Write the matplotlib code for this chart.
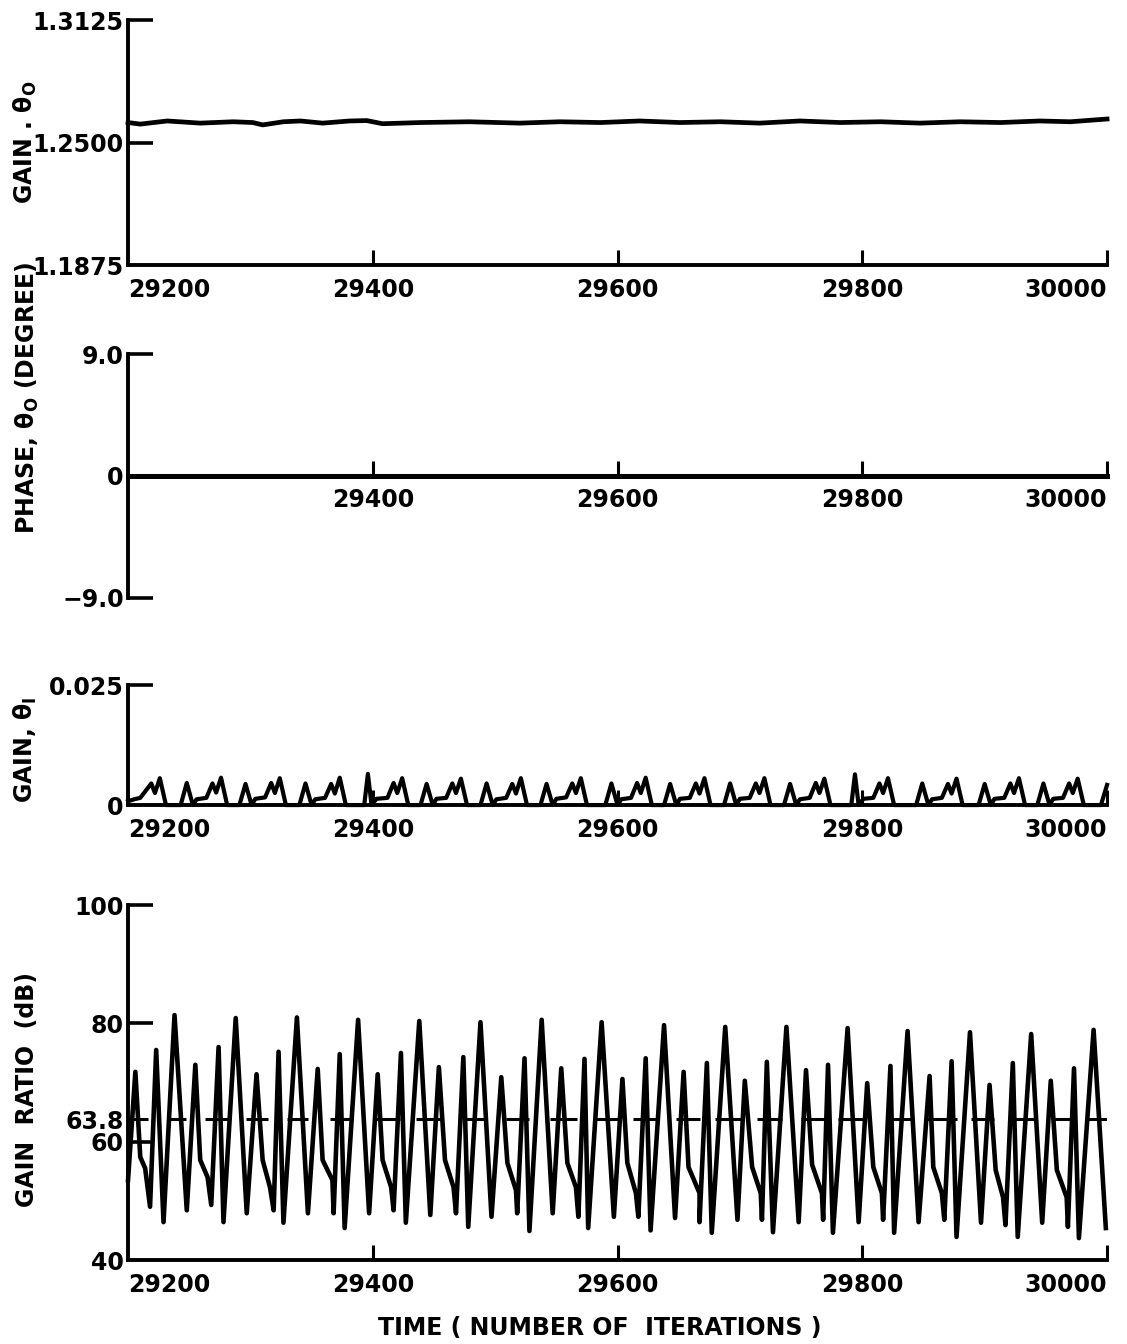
import matplotlib
matplotlib.use("Agg")
import matplotlib.pyplot as plt

plt.rcParams['font.family'] = ['DejaVu Sans']
plt.rcParams['font.weight'] = 'bold'
plt.rcParams['mathtext.fontset'] = 'dejavusans'

# --- data ---
# panel 1: gain theta_0
gain0_iter = [29200, 29210, 29232, 29259, 29286, 29302, 29310, 29327, 29341, 29359,
              29381, 29395, 29408, 29439, 29479, 29520, 29553, 29586, 29618, 29651,
              29684, 29716, 29749, 29782, 29815, 29847, 29880, 29913, 29945, 29970, 30000]
gain0_val = [1.2602, 1.2594, 1.2610, 1.2599, 1.2606, 1.2602, 1.2590, 1.2606, 1.2610, 1.2599,
             1.2610, 1.2612, 1.2596, 1.2602, 1.2606, 1.2599, 1.2606, 1.2602, 1.2610, 1.2602,
             1.2606, 1.2599, 1.2610, 1.2602, 1.2606, 1.2599, 1.2606, 1.2602, 1.2610, 1.2606, 1.2620]

# panel 2: phase theta_0 (flat)
phase_iter = [29200, 30000]
phase_val = [0.0, 0.0]

# panel 3: gain theta_I
gainI_iter = [29200, 29205, 29210, 29219, 29222, 29226, 29231,
              29243, 29248, 29253, 29256, 29264, 29269, 29272, 29276, 29281,
              29291, 29296, 29301, 29304, 29312, 29317, 29320, 29324, 29329,
              29340, 29345, 29350, 29353, 29361, 29366, 29369, 29373, 29378,
              29393, 29396, 29399, 29403, 29412, 29417, 29420, 29424, 29429,
              29439, 29444, 29449, 29452, 29460, 29465, 29468, 29472, 29477,
              29488, 29493, 29498, 29501, 29509, 29514, 29517, 29521, 29526,
              29537, 29542, 29547, 29550, 29558, 29563, 29566, 29570, 29575,
              29590, 29595, 29600, 29603, 29611, 29616, 29619, 29623, 29628,
              29638, 29643, 29648, 29651, 29659, 29664, 29667, 29671, 29676,
              29687, 29692, 29697, 29700, 29708, 29713, 29716, 29720, 29725,
              29736, 29741, 29746, 29749, 29757, 29762, 29765, 29769, 29774,
              29791, 29794, 29797, 29801, 29809, 29814, 29817, 29821, 29826,
              29844, 29849, 29854, 29857, 29865, 29870, 29873, 29877, 29882,
              29895, 29900, 29905, 29908, 29916, 29921, 29924, 29928, 29933,
              29943, 29948, 29953, 29956, 29964, 29969, 29972, 29976, 29981,
              29995, 30000]
gainI_val = [0.0008, 0.0012, 0.0015, 0.0045, 0.0025, 0.0056, 0.0,
             0.0, 0.0046, 0.0, 0.0012, 0.0015, 0.0045, 0.0026, 0.0057, 0.0,
             0.0, 0.0044, 0.0, 0.0013, 0.0016, 0.0046, 0.0025, 0.0056, 0.0,
             0.0, 0.0045, 0.0, 0.0012, 0.0015, 0.0044, 0.0024, 0.0057, 0.0,
             0.0, 0.0065, 0.0, 0.0013, 0.0015, 0.0046, 0.0025, 0.0056, 0.0,
             0.0, 0.0044, 0.0, 0.0013, 0.0015, 0.0045, 0.0025, 0.0055, 0.0,
             0.0, 0.0045, 0.0, 0.0012, 0.0015, 0.0044, 0.0024, 0.0056, 0.0,
             0.0, 0.0044, 0.0, 0.0013, 0.0016, 0.0045, 0.0025, 0.0056, 0.0,
             0.0, 0.0045, 0.0, 0.0012, 0.0015, 0.0046, 0.0025, 0.0057, 0.0,
             0.0, 0.0044, 0.0, 0.0013, 0.0015, 0.0045, 0.0024, 0.0056, 0.0,
             0.0, 0.0045, 0.0, 0.0013, 0.0015, 0.0045, 0.0025, 0.0056, 0.0,
             0.0, 0.0044, 0.0, 0.0012, 0.0015, 0.0046, 0.0025, 0.0055, 0.0,
             0.0, 0.0064, 0.0, 0.0013, 0.0015, 0.0045, 0.0025, 0.0056, 0.0,
             0.0, 0.0045, 0.0, 0.0012, 0.0015, 0.0044, 0.0024, 0.0055, 0.0,
             0.0, 0.0044, 0.0, 0.0013, 0.0015, 0.0045, 0.0025, 0.0056, 0.0,
             0.0, 0.0045, 0.0, 0.0013, 0.0015, 0.0045, 0.0025, 0.0055, 0.0,
             0.0, 0.0042]

# panel 4: gain ratio (dB)
ratio_iter = [29200, 29206, 29210, 29214, 29218, 29223, 29229, 29238, 29248, 29255,
              29259, 29265, 29268, 29274, 29278, 29288, 29297, 29305, 29310, 29316,
              29319, 29323, 29327, 29338, 29347, 29355, 29359, 29367, 29368, 29373,
              29377, 29388, 29397, 29404, 29408, 29415, 29417, 29423, 29427, 29438,
              29447, 29454, 29459, 29466, 29468, 29474, 29478, 29488, 29497, 29505,
              29510, 29517, 29518, 29524, 29528, 29538, 29547, 29554, 29559, 29566,
              29568, 29573, 29576, 29587, 29597, 29604, 29608, 29615, 29617, 29623,
              29627, 29638, 29647, 29654, 29658, 29667, 29667, 29673, 29677, 29688,
              29698, 29704, 29710, 29717, 29718, 29722, 29727, 29738, 29748, 29754,
              29759, 29767, 29768, 29772, 29776, 29788, 29797, 29804, 29809, 29816,
              29817, 29823, 29826, 29837, 29846, 29855, 29858, 29865, 29867, 29873,
              29877, 29888, 29897, 29904, 29909, 29915, 29917, 29923, 29927, 29938,
              29947, 29954, 29959, 29967, 29968, 29973, 29977, 29989, 29999]
ratio_val = [53.5, 71.8, 57.4, 55.5, 49.0, 75.5, 46.4, 81.4, 48.4, 73.0,
             56.9, 54.0, 49.3, 76.0, 46.4, 80.9, 47.9, 71.4, 56.9, 52.3,
             48.4, 75.2, 46.3, 81.0, 47.9, 72.3, 56.9, 53.5, 47.9, 74.8,
             45.4, 80.6, 47.9, 71.4, 56.9, 52.3, 48.4, 75.0, 46.3, 80.4,
             47.6, 72.6, 56.9, 52.3, 47.9, 74.3, 45.6, 80.2, 47.3, 70.9,
             56.4, 51.8, 47.9, 74.1, 44.9, 80.6, 47.9, 72.4, 56.4, 52.3,
             47.3, 74.0, 45.4, 80.2, 47.3, 70.6, 56.4, 51.3, 47.3, 74.1,
             45.0, 79.7, 47.1, 71.8, 55.7, 51.3, 46.4, 73.3, 44.6, 79.4,
             46.8, 70.3, 55.7, 51.3, 46.8, 73.5, 44.7, 79.4, 46.4, 72.1,
             56.1, 51.3, 46.8, 73.0, 44.6, 79.2, 46.4, 69.9, 55.7, 51.3,
             46.8, 72.8, 44.6, 78.7, 46.4, 71.1, 55.7, 51.3, 46.8, 73.6,
             43.9, 78.5, 46.3, 69.6, 55.2, 50.6, 45.9, 73.3, 43.9, 78.2,
             46.3, 70.3, 55.2, 50.6, 45.6, 72.4, 43.7, 78.9, 45.4]

# broken reference line at 63.8 dB
ref_level = 63.8
ref_start = [29200, 29233, 29263, 29296, 29330, 29365, 29402, 29435, 29475, 29509,
             29545, 29581, 29613, 29648, 29680, 29714, 29750, 29780, 29819, 29851,
             29889, 29921, 29955, 29983]
ref_end = [29216, 29247, 29282, 29314, 29347, 29384, 29422, 29457, 29493, 29528,
           29567, 29601, 29633, 29667, 29702, 29734, 29770, 29803, 29841, 29877,
           29908, 29942, 29975, 30001]

x_ticks = [29200, 29400, 29600, 29800, 30000]
x_labels = ['29200', '29400', '29600', '29800', '30000']

FS = 17
fig = plt.figure(figsize=(11.27, 13.44), dpi=100)


def base_axes(rect):
    ax = fig.add_axes(rect)
    ax.set_facecolor('none')
    ax.spines['top'].set_visible(False)
    ax.spines['right'].set_visible(False)
    ax.spines['left'].set_linewidth(2.8)
    ax.spines['bottom'].set_linewidth(2.8)
    ax.tick_params(axis='x', direction='in', length=11, width=2.2, labelsize=FS, pad=9)
    ax.tick_params(axis='y', direction='in', length=18, width=2.6, labelsize=FS, pad=3)
    ax.set_xlim(29200, 30000)
    return ax


def set_x(ax, ticks, labels):
    ax.set_xticks(ticks, labels)
    lbls = ax.get_xticklabels()
    if labels[0] == '29200':
        lbls[0].set_ha('left')
        ax.xaxis.get_major_ticks()[0].tick1line.set_visible(False)
    lbls[-1].set_ha('right')


def hide_ytick(ax, idx):
    ax.yaxis.get_major_ticks()[idx].tick1line.set_visible(False)


# panel 1
ax1 = base_axes([0.1136, 0.8028, 0.8687, 0.1823])
ax1.plot(gain0_iter, gain0_val, color='black', lw=3.4, clip_on=False)
ax1.set_ylim(1.1875, 1.3125)
ax1.set_yticks([1.1875, 1.25, 1.3125], ['1.1875', '1.2500', '1.3125'])
hide_ytick(ax1, 0)
set_x(ax1, x_ticks, x_labels)

# panel 2
ax2 = base_axes([0.1136, 0.5551, 0.8687, 0.1815])
ax2.plot(phase_iter, phase_val, color='black', lw=3.6, clip_on=False)
ax2.set_ylim(-9.0, 9.0)
ax2.spines['bottom'].set_position(('data', 0))
ax2.set_yticks([-9.0, 0, 9.0], ['\u22129.0', '0', '9.0'])
hide_ytick(ax2, 1)
set_x(ax2, x_ticks[1:], x_labels[1:])

# panel 3
ax3 = base_axes([0.1136, 0.4010, 0.8687, 0.0893])
ax3.plot(gainI_iter, gainI_val, color='black', lw=3.0, clip_on=False)
ax3.set_ylim(0, 0.025)
ax3.set_yticks([0, 0.025], ['0', '0.025'])
hide_ytick(ax3, 0)
set_x(ax3, x_ticks, x_labels)

# panel 4
ax4 = base_axes([0.1136, 0.0625, 0.8687, 0.2641])
ax4.plot(ratio_iter, ratio_val, color='black', lw=3.3, clip_on=False)
ax4.hlines([ref_level] * len(ref_start), ref_start, ref_end, color='black', lw=2.2)
ax4.set_ylim(40, 100)
ax4.set_yticks([40, 60, 63.8, 80, 100], ['40', '60', '63.8', '80', '100'])
hide_ytick(ax4, 0)
hide_ytick(ax4, 2)
set_x(ax4, x_ticks, x_labels)

# axis titles
fig.text(0.0222, 0.8943, r'GAIN . θ$_\mathbf{O}$', rotation=90, ha='center', va='center', fontsize=FS)
fig.text(0.0240, 0.7039, r'PHASE, θ$_\mathbf{O}$ (DEGREE)', rotation=90, ha='center', va='center', fontsize=FS)
fig.text(0.0222, 0.4420, r'GAIN, θ$_\mathbf{I}$', rotation=90, ha='center', va='center', fontsize=FS)
fig.text(0.0240, 0.1890, 'GAIN  RATIO  (dB)', rotation=90, ha='center', va='center', fontsize=FS)
fig.text(0.532, 0.0119, 'TIME ( NUMBER OF  ITERATIONS )', ha='center', va='center', fontsize=FS)

fig.savefig('out.png', dpi=100, facecolor='white')
